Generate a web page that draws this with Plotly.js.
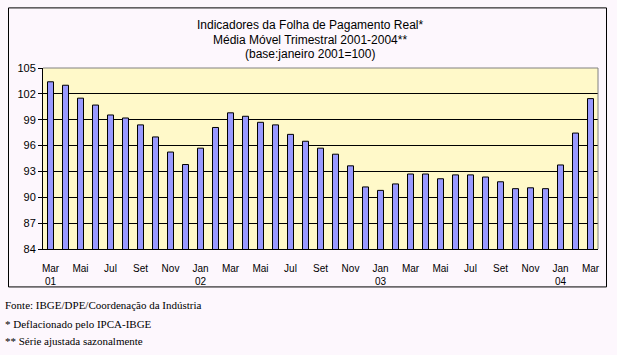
<!DOCTYPE html>
<html>
<head>
<meta charset="utf-8">
<script src="https://cdn.plot.ly/plotly-3.0.1.min.js"></script>
<style>
html,body{margin:0;padding:0;background:#FDF7FD;}
#chart{width:617px;height:355px;}
</style>
</head>
<body>
<div id="chart"></div>
<script>
// Months (Mar 2001 - Mar 2004)
var months = ["2001-03","2001-04","2001-05","2001-06","2001-07","2001-08","2001-09","2001-10","2001-11","2001-12",
  "2002-01","2002-02","2002-03","2002-04","2002-05","2002-06","2002-07","2002-08","2002-09","2002-10","2002-11","2002-12",
  "2003-01","2003-02","2003-03","2003-04","2003-05","2003-06","2003-07","2003-08","2003-09","2003-10","2003-11","2003-12",
  "2004-01","2004-02","2004-03"];
var values = [103.4,103.0,101.5,100.7,99.55,99.2,98.4,97.0,95.25,93.8,
  95.7,98.1,99.8,99.4,98.7,98.4,97.3,96.5,95.7,95.0,93.65,91.2,
  90.8,91.55,92.7,92.7,92.15,92.6,92.6,92.35,91.8,91.0,91.1,91.0,
  93.75,97.45,101.45];
var tickMonths = ["2001-03","2001-05","2001-07","2001-09","2001-11","2002-01","2002-03","2002-05","2002-07","2002-09","2002-11",
  "2003-01","2003-03","2003-05","2003-07","2003-09","2003-11","2004-01","2004-03"];
var tickLabels = ["Mar<br>01","Mai","Jul","Set","Nov","Jan<br>02","Mar","Mai","Jul","Set","Nov",
  "Jan<br>03","Mar","Mai","Jul","Set","Nov","Jan<br>04","Mar"];
var yTicks = [84,87,90,93,96,99,102,105];
var titleLines = ["Indicadores da Folha de Pagamento Real*","Média Móvel Trimestral 2001-2004**","(base:janeiro 2001=100)"];
var footLines = ["Fonte: IBGE/DPE/Coordenação da Indústria","* Deflacionado pelo IPCA-IBGE","** Série ajustada sazonalmente"];

var W = 617, H = 355, L = 43, R = 598, T = 67.7, B = 249;
function px(x){ return (x - L) / (R - L); }
function py(y){ return (B - y) / (B - T); }

var trace = {
  type: 'bar', x: months, y: values,
  marker: {color: '#9999FF', line: {color: '#000000', width: 1}},
  hoverinfo: 'x+y'
};

var annotations = [];
var titleY = [25, 40, 54];
titleLines.forEach(function(t, i){
  annotations.push({text: t, xref: 'paper', yref: 'paper', x: px(310), y: py(titleY[i]),
    xanchor: 'center', yanchor: 'middle', showarrow: false,
    font: {family: 'Liberation Sans, Arial, sans-serif', size: 12, color: '#000'}});
});
var footY = [305, 324, 341];
footLines.forEach(function(t, i){
  annotations.push({text: t, xref: 'paper', yref: 'paper', x: px(3), y: py(footY[i]),
    xanchor: 'left', yanchor: 'middle', showarrow: false,
    font: {family: 'Liberation Serif, Times New Roman, serif', size: 11, color: '#000'}});
});

var layout = {
  width: W, height: H,
  margin: {l: L, r: W - R, t: T, b: H - B, pad: 0},
  paper_bgcolor: '#FDF7FD', plot_bgcolor: '#FFF9C9',
  showlegend: false, bargap: 0.6,
  xaxis: {type: 'category', categoryorder: 'array', categoryarray: months,
    tickmode: 'array', tickvals: tickMonths, ticktext: tickLabels,
    showline: true, linecolor: '#000', linewidth: 1,
    ticks: 'outside', ticklen: 10, tickcolor: 'rgba(0,0,0,0)', showgrid: false,
    tickfont: {family: 'Liberation Sans, Arial, sans-serif', size: 10, color: '#000'},
    range: [-0.5, months.length - 0.5], fixedrange: true},
  yaxis: {range: [84, 105], tickmode: 'array', tickvals: yTicks,
    showline: true, linecolor: '#000', linewidth: 1, ticks: 'outside', ticklen: 4, tickcolor: '#000',
    showgrid: true, gridcolor: '#000', gridwidth: 1, zeroline: false,
    tickfont: {family: 'Liberation Sans, Arial, sans-serif', size: 11, color: '#000'}, fixedrange: true},
  annotations: annotations,
  shapes: [
    {type: 'rect', xref: 'paper', yref: 'paper', x0: px(8.5), x1: px(606.5), y0: py(287), y1: py(7.5),
      line: {color: '#000', width: 1}, layer: 'below'},
    {type: 'line', xref: 'paper', yref: 'paper', x0: 0, x1: 1, y0: 1, y1: 1, line: {color: '#808080', width: 1}},
    {type: 'line', xref: 'paper', yref: 'paper', x0: 1, x1: 1, y0: 0, y1: 1, line: {color: '#808080', width: 1}}
  ]
};
Plotly.newPlot('chart', [trace], layout, {displayModeBar: false, staticPlot: true});
</script>
</body>
</html>
